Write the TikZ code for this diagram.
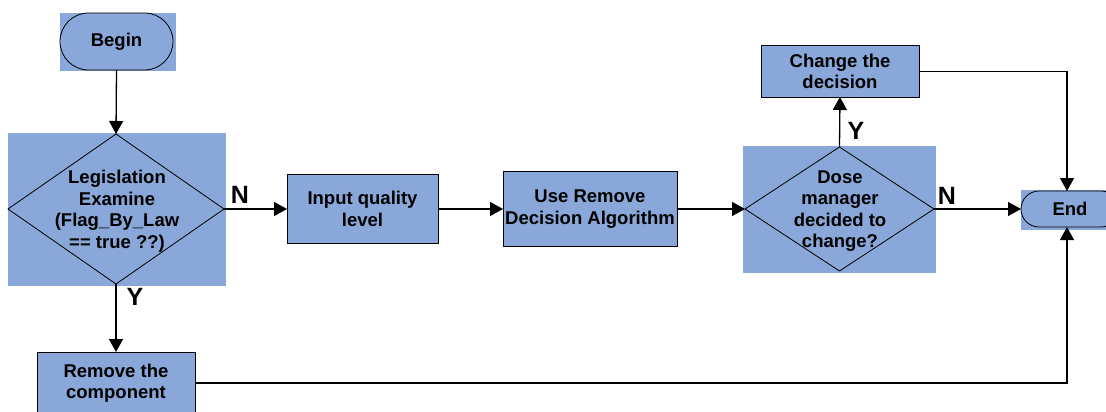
\documentclass[tikz,border=0pt]{standalone}
\usepackage{fontspec}
\setmainfont{Liberation Sans}
\usetikzlibrary{shapes.geometric,shapes.misc,arrows.meta}
\definecolor{boxfill}{HTML}{8AA7D9}
\begin{document}
\begin{tikzpicture}[x=1pt,y=-1pt,
  every node/.style={font=\bfseries\fontsize{18.5}{21.5}\selectfont, align=center, inner sep=0pt, outer sep=0pt},
  proc/.style={draw=black, line width=1pt, fill=boxfill, rectangle},
  term/.style={draw=black, line width=0.8pt, fill=boxfill, rounded rectangle},
  decide/.style={draw=black, line width=0.8pt, diamond},
  backdrop/.style={fill=boxfill},
  flow/.style={line width=1.3pt, -{Triangle[length=13pt,width=14pt]}},
  yn/.style={font=\bfseries\fontsize{25}{25}\selectfont}]

\clip (0,0) rectangle (1106,412);

% shaded backdrops behind the terminals and decisions
\fill[backdrop] (60,13) rectangle (176,71);
\fill[backdrop] (8,133) rectangle (226,286);
\fill[backdrop] (743,146) rectangle (936,273);
\fill[backdrop] (1021,190) rectangle (1106,230);

% terminals
\node[term, minimum width=113pt, minimum height=57pt] (begin) at (116.5,41.5) {Begin};
\node[term, minimum width=98pt, minimum height=36pt] (finish) at (1070,209) {End};

% decisions
\node[decide, minimum width=216pt, minimum height=150pt] (law) at (116,209) {};
\node (lawtext) at (117,211) {Legislation\\Examine\\(Flag\_By\_Law\\== true ??)};
\node[decide, minimum width=189pt, minimum height=124pt] (dose) at (839.5,209) {};
\node (dosetext) at (840,211) {Dose\\manager\\decided to\\change?};

% process steps
\node[proc, minimum width=151pt, minimum height=69pt] (input) at (362.5,209) {Input quality\\level};
\node[proc, minimum width=174pt, minimum height=75pt] (algo) at (590,209) {Use Remove\\Decision Algorithm};
\node[proc, minimum width=158pt, minimum height=51pt] (change) at (840,71.5) {Change the\\decision};
\node[proc, minimum width=158pt, minimum height=62pt] (remove) at (116,383) {Remove the\\component};

% connectors
\draw[flow] (begin.south) -- (law.north);
\draw[flow] (law.east) -- (input.west);
\draw[flow] (law.south) -- (remove.north);
\draw[flow] (input.east) -- (algo.west);
\draw[flow] (algo.east) -- (dose.west);
\draw[flow] (dose.north) -- (change.south);
\draw[flow] (dose.east) -- (finish.west);
\draw[flow] (change.east) -| ([xshift=-3pt]finish.north);
\draw[flow] (remove.east) -| ([xshift=-3pt]finish.south);

% branch labels
\node[yn] (lawno) at (240,195) {N};
\node[yn] (lawyes) at (135,297) {Y};
\node[yn] (doseyes) at (856,131) {Y};
\node[yn] (doseno) at (947,196) {N};
\end{tikzpicture}
\end{document}
